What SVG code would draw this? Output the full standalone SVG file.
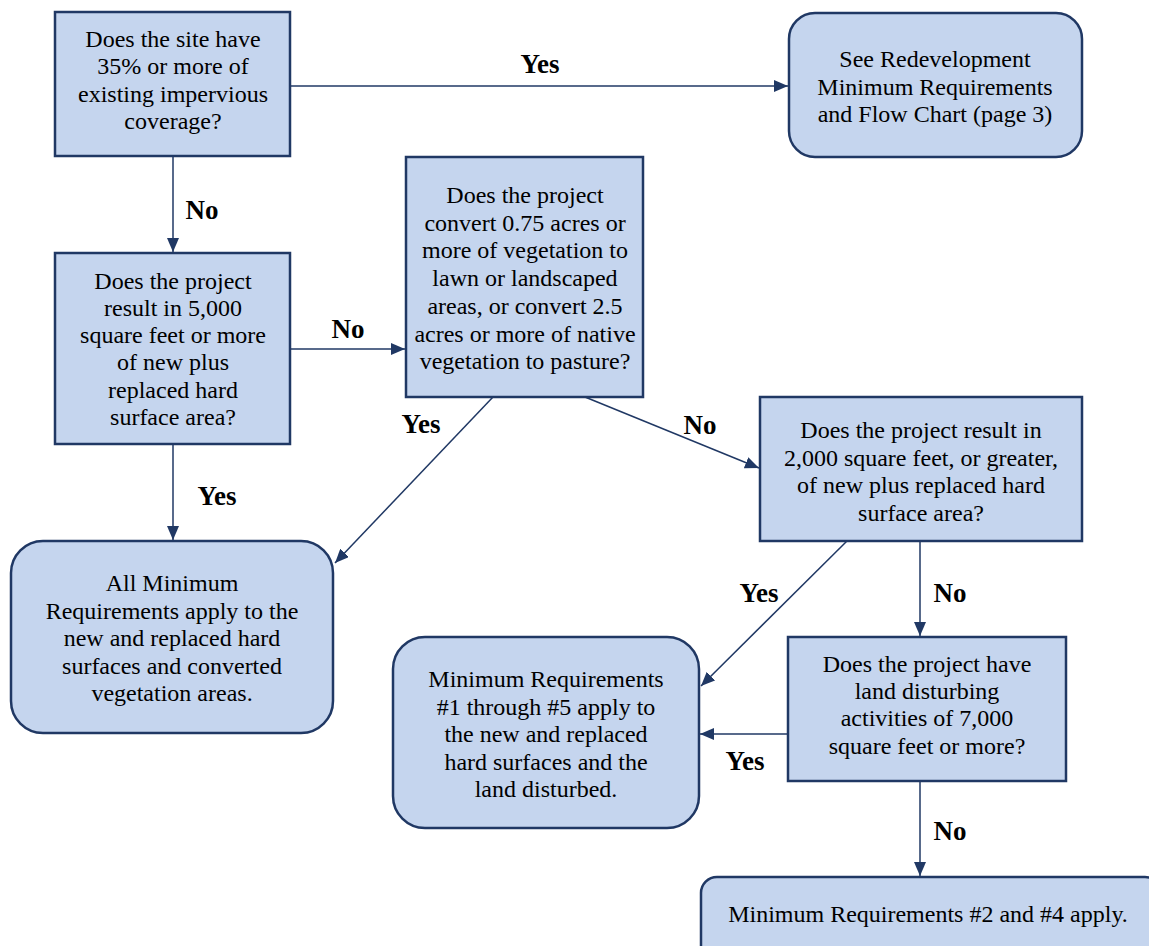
<svg xmlns="http://www.w3.org/2000/svg" width="1149" height="946" viewBox="0 0 1149 946">
<style>
.box{fill:#c5d5ee;stroke:#203864;stroke-width:2.5}
.t{font-family:"Liberation Serif","Times New Roman",serif;font-size:24px;fill:#000;text-anchor:middle}
.l{font-family:"Liberation Serif","Times New Roman",serif;font-size:27px;font-weight:bold;fill:#000;text-anchor:middle}
.c{stroke:#203864;stroke-width:1.5;fill:none;marker-end:url(#ah)}
</style>
<defs>
<marker id="ah" viewBox="0 0 14 12" refX="14" refY="6" markerWidth="14" markerHeight="12" markerUnits="userSpaceOnUse" orient="auto">
<path d="M0,0 L14,6 L0,12 Z" fill="#203864"/>
</marker>
</defs>
<rect width="1149" height="946" fill="#fff"/>
<g id="connectors">
<line class="c" x1="290" y1="86" x2="788" y2="86"/>
<line class="c" x1="173" y1="156" x2="173" y2="252"/>
<line class="c" x1="290" y1="349" x2="405" y2="349"/>
<line class="c" x1="173" y1="444" x2="173" y2="540"/>
<line class="c" x1="493" y1="397" x2="335" y2="563"/>
<line class="c" x1="585" y1="397" x2="759" y2="468"/>
<line class="c" x1="847" y1="541" x2="701" y2="686"/>
<line class="c" x1="920" y1="541" x2="920" y2="636"/>
<line class="c" x1="788" y1="734" x2="700" y2="734"/>
<line class="c" x1="920" y1="781" x2="920" y2="876"/>
<text class="l" x="540" y="73">Yes</text>
<text class="l" x="202" y="219">No</text>
<text class="l" x="348" y="338">No</text>
<text class="l" x="217" y="505">Yes</text>
<text class="l" x="421" y="433">Yes</text>
<text class="l" x="700" y="434">No</text>
<text class="l" x="759" y="602">Yes</text>
<text class="l" x="950" y="602">No</text>
<text class="l" x="745" y="770">Yes</text>
<text class="l" x="950" y="840">No</text>
</g>
<g id="n1">
<rect class="box" x="55" y="12" width="235" height="144"/>
<text class="t" x="173" y="47">Does the site have</text>
<text class="t" x="173" y="74">35% or more of</text>
<text class="t" x="173" y="102">existing impervious</text>
<text class="t" x="173" y="129">coverage?</text>
</g>
<g id="n2">
<rect class="box" x="789" y="13" width="293" height="144" rx="26"/>
<text class="t" x="935" y="67">See Redevelopment</text>
<text class="t" x="935" y="95">Minimum Requirements</text>
<text class="t" x="935" y="122">and Flow Chart (page 3)</text>
</g>
<g id="n3">
<rect class="box" x="55" y="253" width="235" height="191"/>
<text class="t" x="173" y="289">Does the project</text>
<text class="t" x="173" y="316">result in 5,000</text>
<text class="t" x="173" y="343">square feet or more</text>
<text class="t" x="173" y="370">of new plus</text>
<text class="t" x="173" y="398">replaced hard</text>
<text class="t" x="173" y="425">surface area?</text>
</g>
<g id="n4">
<rect class="box" x="406" y="157" width="237" height="240"/>
<text class="t" x="525" y="203">Does the project</text>
<text class="t" x="525" y="231">convert 0.75 acres or</text>
<text class="t" x="525" y="258">more of vegetation to</text>
<text class="t" x="525" y="286">lawn or landscaped</text>
<text class="t" x="525" y="314">areas, or convert 2.5</text>
<text class="t" x="525" y="342">acres or more of native</text>
<text class="t" x="525" y="369">vegetation to pasture?</text>
</g>
<g id="n5">
<rect class="box" x="11" y="541" width="322" height="192" rx="32"/>
<text class="t" x="172" y="591">All Minimum</text>
<text class="t" x="172" y="619">Requirements apply to the</text>
<text class="t" x="172" y="646">new and replaced hard</text>
<text class="t" x="172" y="674">surfaces and converted</text>
<text class="t" x="172" y="701">vegetation areas.</text>
</g>
<g id="n6">
<rect class="box" x="760" y="397" width="322" height="144"/>
<text class="t" x="921" y="438">Does the project result in</text>
<text class="t" x="921" y="466">2,000 square feet, or greater,</text>
<text class="t" x="921" y="493">of new plus replaced hard</text>
<text class="t" x="921" y="521">surface area?</text>
</g>
<g id="n7">
<rect class="box" x="393" y="637" width="306" height="191" rx="32"/>
<text class="t" x="546" y="687">Minimum Requirements</text>
<text class="t" x="546" y="715">#1 through #5 apply to</text>
<text class="t" x="546" y="742">the new and replaced</text>
<text class="t" x="546" y="770">hard surfaces and the</text>
<text class="t" x="546" y="797">land disturbed.</text>
</g>
<g id="n8">
<rect class="box" x="788" y="637" width="278" height="144"/>
<text class="t" x="927" y="672">Does the project have</text>
<text class="t" x="927" y="699">land disturbing</text>
<text class="t" x="927" y="726">activities of 7,000</text>
<text class="t" x="927" y="754">square feet or more?</text>
</g>
<g id="n9">
<rect class="box" x="701" y="877" width="460" height="90" rx="16"/>
<text class="t" x="928" y="922">Minimum Requirements #2 and #4 apply.</text>
</g>
</svg>
